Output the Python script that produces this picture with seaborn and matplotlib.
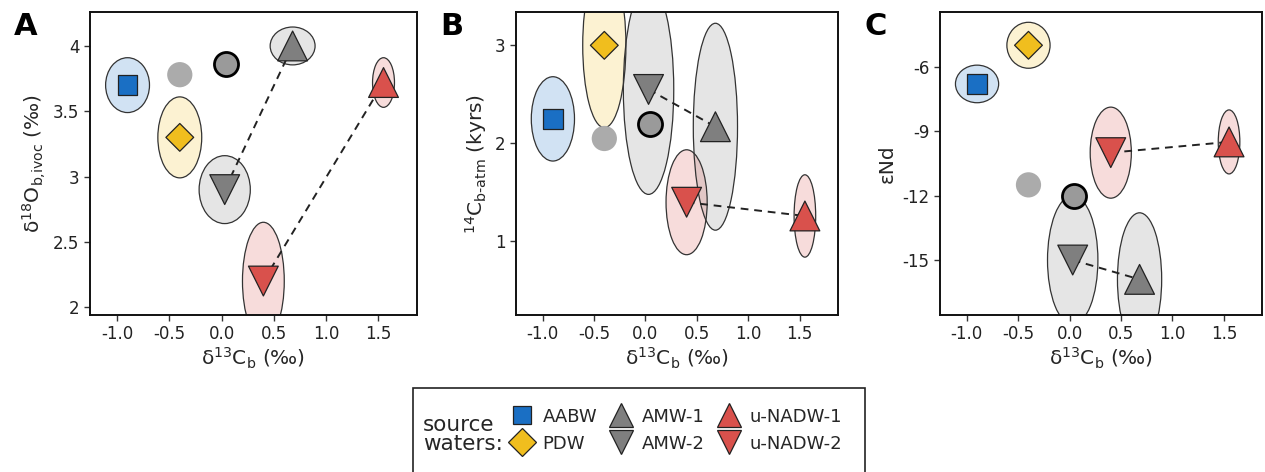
import matplotlib
matplotlib.use("Agg")
import matplotlib.pyplot as plt
from matplotlib.patches import Ellipse, Rectangle
from matplotlib.lines import Line2D
import seaborn as sns
import pandas as pd

# ---------------- data ----------------
sources = ["AABW", "PDW", "AMW-1", "AMW-2", "u-NADW-1", "u-NADW-2"]
d13c = [-0.90, -0.40, 0.68, 0.03, 1.55, 0.40]
d13c_err = [0.21, 0.21, 0.215, 0.245, 0.105, 0.20]
d18o = [3.70, 3.30, 4.00, 2.90, 3.72, 2.20]
d18o_err = [0.21, 0.31, 0.145, 0.26, 0.19, 0.45]
c14 = [2.25, 3.00, 2.17, 2.55, 1.26, 1.40]
c14_err = [0.43, 0.84, 1.055, 1.07, 0.42, 0.535]
end = [-6.8, -5.0, -15.9, -15.0, -9.5, -10.0]
end_err = [0.875, 1.07, 3.1, 3.0, 1.49, 2.12]

# two reference (grey) points
ref_names = ["light", "dark"]
ref_d13c = [-0.40, 0.04]
ref_d18o = [3.78, 3.86]
ref_c14 = [2.05, 2.20]
ref_end = [-11.5, -12.0]

# mixing lines (lower -> upper end member)
pairs = [("AMW-2", "AMW-1"), ("u-NADW-2", "u-NADW-1")]

xticks = [-1.0, -0.5, 0.0, 0.5, 1.0, 1.5]
xtick_labels = ["-1.0", "-0.5", "0.0", "0.5", "1.0", "1.5"]

# ---------------- style ----------------
colors = {"AABW": "#1a6fc4", "PDW": "#f0be1e", "AMW-1": "#7f7f7f",
          "AMW-2": "#7f7f7f", "u-NADW-1": "#d9514c", "u-NADW-2": "#d9514c"}
markers = {"AABW": "s", "PDW": "D", "AMW-1": "^", "AMW-2": "v",
           "u-NADW-1": "^", "u-NADW-2": "v"}
sizes = {"AABW": 200, "PDW": 200, "AMW-1": 460, "AMW-2": 460,
         "u-NADW-1": 460, "u-NADW-2": 460}

sns.set_style("white")
plt.rcParams["font.family"] = ["DejaVu Sans"]
plt.rcParams["mathtext.fontset"] = "dejavusans"

fig = plt.figure(figsize=(12.65, 4.72), dpi=100)
axA = fig.add_axes([0.0711, 0.3326, 0.2585, 0.642])
axB = fig.add_axes([0.4078, 0.3326, 0.2545, 0.642])
axC = fig.add_axes([0.7431, 0.3326, 0.2545, 0.642])

panels = [
    (axA, d18o, d18o_err, ref_d18o, (1.94, 4.26), [2, 2.5, 3, 3.5, 4],
     ["2", "2.5", "3", "3.5", "4"], r"δ$^{18}$O$_{\mathrm{b{,}ivoc}}$ (‰)", "A"),
    (axB, c14, c14_err, ref_c14, (0.25, 3.34), [1, 2, 3], ["1", "2", "3"],
     r"$^{14}$C$_{\mathrm{b\text{-}atm}}$ (kyrs)", "B"),
    (axC, end, end_err, ref_end, (-17.56, -3.45), [-15, -12, -9, -6],
     ["-15", "-12", "-9", "-6"], "εNd", "C"),
]

for ax, yv, ye, refy, ylim, yt, ytl, ylab, letter in panels:
    df = pd.DataFrame({"source": sources, "x": d13c, "y": yv})
    # uncertainty ellipses
    for s, x, y, xe, yerr in zip(sources, d13c, yv, d13c_err, ye):
        ax.add_patch(Ellipse((x, y), 2 * xe, 2 * yerr, facecolor=colors[s],
                             alpha=0.2, edgecolor="none", zorder=1))
        ax.add_patch(Ellipse((x, y), 2 * xe, 2 * yerr, facecolor="none",
                             edgecolor="#333333", lw=0.9, zorder=1.1))
    # mixing lines
    idx = {s: i for i, s in enumerate(sources)}
    for a, b in pairs:
        ax.plot([d13c[idx[a]], d13c[idx[b]]], [yv[idx[a]], yv[idx[b]]],
                ls=(0, (4, 3)), color="#222222", lw=1.4, zorder=2)
    # reference points
    sns.scatterplot(x=[ref_d13c[0]], y=[refy[0]], ax=ax, s=330,
                    color="#ababab", edgecolor="none", zorder=3, legend=False)
    sns.scatterplot(x=[ref_d13c[1]], y=[refy[1]], ax=ax, s=300,
                    color="#9a9a9a", edgecolor="black", linewidth=2,
                    zorder=3, legend=False)
    # end members
    sns.scatterplot(data=df, x="x", y="y", hue="source", style="source",
                    size="source", palette=colors, markers=markers,
                    sizes=sizes, edgecolor="#222222", linewidth=0.9,
                    ax=ax, zorder=4, legend=False)
    ax.set_xlim(-1.26, 1.87)
    ax.set_ylim(*ylim)
    ax.set_xticks(xticks)
    ax.set_xticklabels(xtick_labels)
    ax.set_yticks(yt)
    ax.set_yticklabels(ytl)
    ax.tick_params(axis="both", labelsize=12, length=4, width=1.0,
                   direction="out", color="#333333", labelcolor="#222222",
                   bottom=True, left=True)
    ax.set_xlabel(r"δ$^{13}$C$_{\mathrm{b}}$ (‰)", fontsize=14.5, labelpad=2)
    ax.set_ylabel(ylab, fontsize=14.5, labelpad=4)
    for sp in ax.spines.values():
        sp.set_linewidth(1.4)
        sp.set_color("#111111")
    bb = ax.get_position()
    fig.text(bb.x0 - 0.06, 0.975, letter, fontsize=22, fontweight="bold",
             va="top", ha="left", color="black")

# ---------------- legend ----------------
handles = []
for s in sources:
    ms = {"s": 13, "D": 14, "^": 17, "v": 17}[markers[s]]
    handles.append(Line2D([], [], linestyle="none", marker=markers[s],
                          markersize=ms, markerfacecolor=colors[s],
                          markeredgecolor="#222222", markeredgewidth=0.9))
leg = fig.legend(handles, sources, ncol=3, loc="upper left",
                 bbox_to_anchor=(0.391, 0.167), frameon=False, fontsize=13,
                 handlelength=1.4, handletextpad=0.45, columnspacing=0.64,
                 labelspacing=0.5, borderpad=0.3)
fig.text(423 / 1265, 1 - 425 / 472, "source", fontsize=15.5, va="center",
         ha="left")
fig.text(423 / 1265, 1 - 444 / 472, "waters:", fontsize=15.5, va="center",
         ha="left")
fig.add_artist(Rectangle((413 / 1265, -0.1), (865 - 413) / 1265,
                         0.1 + (472 - 388) / 472, transform=fig.transFigure,
                         facecolor="none", edgecolor="#222222", lw=1.2))

fig.savefig("out.png", dpi=100)
